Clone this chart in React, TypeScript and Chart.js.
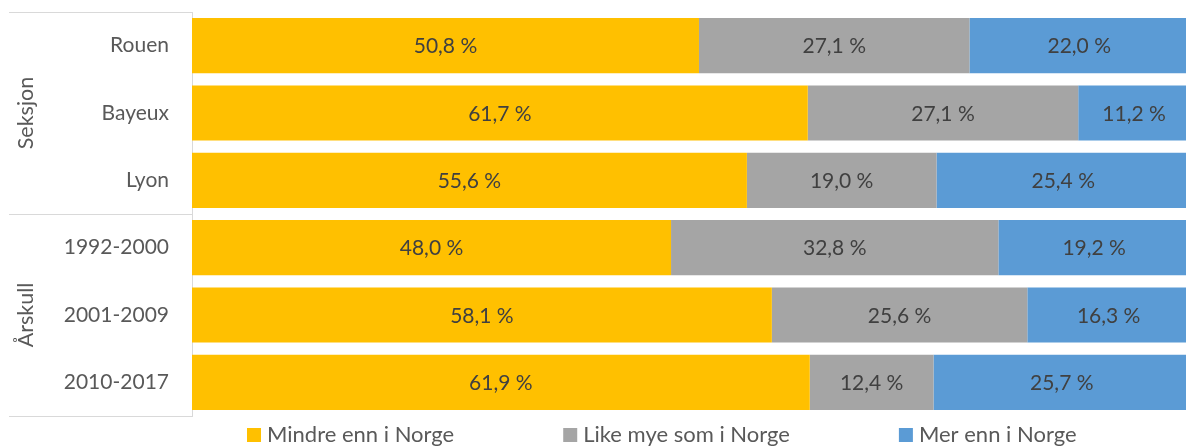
import React, { useEffect, useRef } from 'react';
import { Chart, registerables } from 'chart.js';
Chart.register(...registerables);

const categories = ['Rouen', 'Bayeux', 'Lyon', '1992-2000', '2001-2009', '2010-2017'];
const groupLabels = ['Seksjon', 'Årskull'];
const groupSizes = [3, 3];
const seriesNames = ['Mindre enn i Norge', 'Like mye som i Norge', 'Mer enn i Norge'];
const mindre = [50.8, 61.7, 55.6, 48.0, 58.1, 61.9];
const likeMye = [27.1, 27.1, 19.0, 32.8, 25.6, 12.4];
const mer = [22.0, 11.2, 25.4, 19.2, 16.3, 25.7];
const seriesColors = ['#FFC000', '#A5A5A5', '#5B9BD5'];

const FONT = 'Lato, "Open Sans", sans-serif';
const LINE = '#D9D9D9';

const fmt = (v: number) => v.toFixed(1).replace('.', ',') + ' %';

const extrasPlugin = {
  id: 'extras',
  afterDatasetsDraw(chart: any) {
    const ctx = chart.ctx;
    ctx.save();
    ctx.font = `21px ${FONT}`;
    ctx.fillStyle = '#404040';
    ctx.textAlign = 'center';
    ctx.textBaseline = 'middle';
    chart.data.datasets.forEach((ds: any, di: number) => {
      const meta = chart.getDatasetMeta(di);
      meta.data.forEach((bar: any, i: number) => {
        const cx = (bar.x + bar.base) / 2;
        ctx.fillText(fmt(ds.data[i]), cx, bar.y + 1);
      });
    });
    ctx.restore();
  },
  afterDraw(chart: any) {
    const ctx = chart.ctx;
    const area = chart.chartArea;
    const y = chart.scales.y;
    ctx.save();
    // group separators
    ctx.strokeStyle = LINE;
    ctx.lineWidth = 1;
    const bounds: number[] = [area.top];
    let idx = 0;
    groupSizes.forEach((n) => {
      idx += n;
      if (idx < categories.length) {
        bounds.push((y.getPixelForValue(idx - 1) + y.getPixelForValue(idx)) / 2);
      } else {
        bounds.push(area.bottom);
      }
    });
    bounds.forEach((b) => {
      ctx.beginPath();
      ctx.moveTo(9, Math.round(b) + 0.5);
      ctx.lineTo(area.left, Math.round(b) + 0.5);
      ctx.stroke();
    });
    // group labels
    ctx.font = `21.5px ${FONT}`;
    ctx.fillStyle = '#595959';
    ctx.textAlign = 'center';
    ctx.textBaseline = 'middle';
    groupLabels.forEach((g, gi) => {
      const cy = (bounds[gi] + bounds[gi + 1]) / 2;
      ctx.save();
      ctx.translate(26, cy);
      ctx.rotate(-Math.PI / 2);
      ctx.fillText(g, 0, 0);
      ctx.restore();
    });
    // legend
    ctx.font = `22px ${FONT}`;
    ctx.textAlign = 'left';
    ctx.textBaseline = 'middle';
    let x = 247;
    const ly = 435;
    chart.data.datasets.forEach((ds: any) => {
      ctx.fillStyle = ds.backgroundColor;
      ctx.fillRect(x, ly - 7, 14, 14);
      ctx.fillStyle = '#595959';
      ctx.fillText(ds.label, x + 20, ly);
      x += 20 + ctx.measureText(ds.label).width + 109;
    });
    ctx.restore();
  },
};

export default function App() {
  const ref = useRef<HTMLCanvasElement | null>(null);
  useEffect(() => {
    document.body.style.margin = '0';
    const seriesData = [mindre, likeMye, mer];
    const chart = new Chart(ref.current as HTMLCanvasElement, {
      type: 'bar',
      data: {
        labels: categories,
        datasets: seriesNames.map((name, i) => ({
          label: name,
          data: seriesData[i],
          backgroundColor: seriesColors[i],
          borderWidth: 0,
          categoryPercentage: 1,
          barPercentage: 0.82,
        })),
      },
      options: {
        indexAxis: 'y',
        animation: false,
        responsive: false,
        maintainAspectRatio: false,
        layout: { padding: { top: 12, bottom: 30, left: 0, right: 0 } },
        plugins: { legend: { display: false }, tooltip: { enabled: false } },
        scales: {
          x: { stacked: true, min: 0, max: 100, display: false },
          y: {
            stacked: true,
            afterFit: (s: any) => {
              s.width = 192;
              s.paddingTop = 0;
              s.paddingBottom = 0;
            },
            grid: { display: false, drawTicks: false },
            border: { display: true, color: LINE, width: 1 },
            ticks: {
              padding: 23,
              color: '#595959',
              font: { family: FONT, size: 21 },
            },
          },
        },
      },
      plugins: [extrasPlugin],
    });
    return () => chart.destroy();
  }, []);
  return (
    <div style={{ position: 'absolute', left: 0, top: 0, width: 1186, height: 446, overflow: 'hidden', background: '#fff' }}>
      <canvas ref={ref} width={1190} height={446} style={{ display: 'block' }} />
    </div>
  );
}
